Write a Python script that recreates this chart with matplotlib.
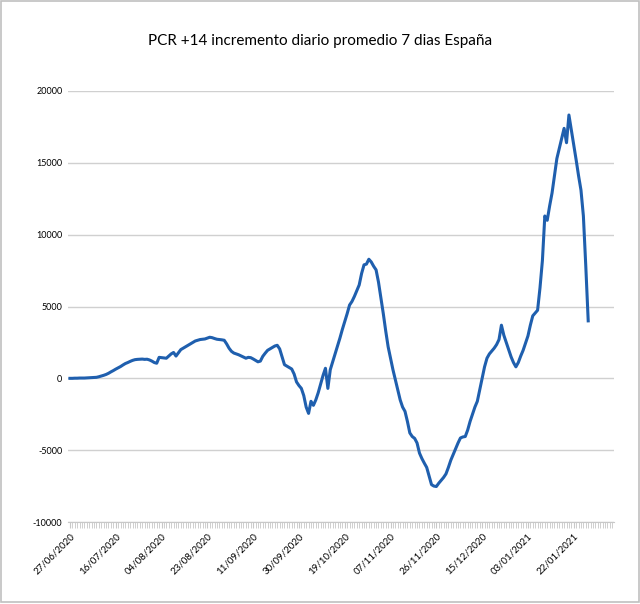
import matplotlib
matplotlib.use("Agg")
import matplotlib.pyplot as plt
import matplotlib.dates as mdates
import numpy as np
import pandas as pd
from matplotlib.patches import Rectangle

plt.rcParams['font.family'] = ['Lato', 'DejaVu Sans']

title = "PCR +14 incremento diario promedio 7 dias España"
start_date = "2020-06-27"
values = [
    0, 0, 10, 10, 20, 20, 20, 30, 40, 50,
    60, 70, 110, 160, 210, 270, 350, 450, 540, 640,
    730, 820, 930, 1030, 1100, 1180, 1250, 1300, 1320, 1330,
    1340, 1320, 1330, 1280, 1200, 1100, 1050, 1460, 1440, 1420,
    1400, 1550, 1700, 1800, 1550, 1780, 2000, 2100, 2200, 2300,
    2400, 2500, 2600, 2650, 2700, 2720, 2740, 2800, 2860, 2830,
    2770, 2720, 2700, 2680, 2650, 2400, 2100, 1880, 1760, 1700,
    1640, 1560, 1480, 1400, 1460, 1440, 1350, 1250, 1150, 1200,
    1530, 1750, 1950, 2050, 2150, 2250, 2300, 2050, 1500, 950,
    850, 750, 650, 300, -250, -500, -700, -1200, -2000, -2440,
    -1600, -1880, -1500, -1000, -400, 200, 700, -700, 600, 1150,
    1700, 2250, 2800, 3400, 3950, 4500, 5100, 5350, 5700, 6100,
    6500, 7300, 7900, 7950, 8290, 8100, 7800, 7550, 6700, 5600,
    4500, 3300, 2200, 1400, 600, -100, -800, -1500, -2000, -2300,
    -3000, -3800, -4050, -4180, -4500, -5200, -5580, -5900, -6200, -6800,
    -7400, -7500, -7530, -7300, -7100, -6900, -6650, -6200, -5700, -5300,
    -4900, -4500, -4150, -4080, -4050, -3600, -3000, -2500, -2000, -1600,
    -800, 0, 800, 1400, 1700, 1900, 2100, 2350, 2700, 3700,
    3000, 2500, 2000, 1500, 1100, 800, 1100, 1550, 1950, 2450,
    2950, 3700, 4350, 4550, 4740, 6300, 8200, 11300, 11000, 12000,
    12900, 14100, 15300, 16000, 16700, 17400, 16400, 18330, 17300, 16300,
    15200, 14100, 13100, 11300, 7800, 4000,
]
tick_labels = ["27/06/2020", "16/07/2020", "04/08/2020", "23/08/2020", "11/09/2020",
               "30/09/2020", "19/10/2020", "07/11/2020", "26/11/2020", "15/12/2020",
               "03/01/2021", "22/01/2021"]
y_ticks = [-10000, -5000, 0, 5000, 10000, 15000, 20000]

dates = pd.date_range(start_date, periods=len(values), freq="D")

fig = plt.figure(figsize=(6.4, 6.04), dpi=100)
ax = fig.add_axes([68/640, 1-522/604, (614-68)/640, (522-91)/604])

ax.plot(dates, values, color="#1f5fae", lw=2.2, solid_joinstyle="round")

x0 = pd.Timestamp(start_date)
ax.set_xlim(x0 - pd.Timedelta(days=0.8), x0 + pd.Timedelta(days=225.7))
ax.set_ylim(-10000, 20000)
ax.set_yticks(y_ticks)
ax.set_yticklabels([str(v) for v in y_ticks], fontsize=6.5)
ax.yaxis.grid(True, color="#d0d0d0", lw=1)
ax.set_axisbelow(True)
for s in ["top", "right", "left"]:
    ax.spines[s].set_visible(False)
ax.spines["bottom"].set_color("#c8c8c8")
ax.tick_params(axis="y", length=0, pad=4)

tick_dates = pd.to_datetime(tick_labels, format="%d/%m/%Y")
ax.set_xticks(tick_dates)
ax.set_xticklabels(tick_labels, rotation=45, ha="right", va="top",
                   rotation_mode="anchor", fontsize=7)
ax.xaxis.set_minor_locator(mdates.DayLocator())
ax.tick_params(axis="x", which="both", length=4, color="#c8c8c8", pad=3)

fig.text(0.5, 1-41/604, title, ha="center", va="center", fontsize=11)

fig.patches.append(Rectangle((0.001, 0.003), 0.997, 0.995, transform=fig.transFigure,
                             fill=False, edgecolor="#c0c0c0", lw=1.2))

fig.savefig("out.png", dpi=100)
